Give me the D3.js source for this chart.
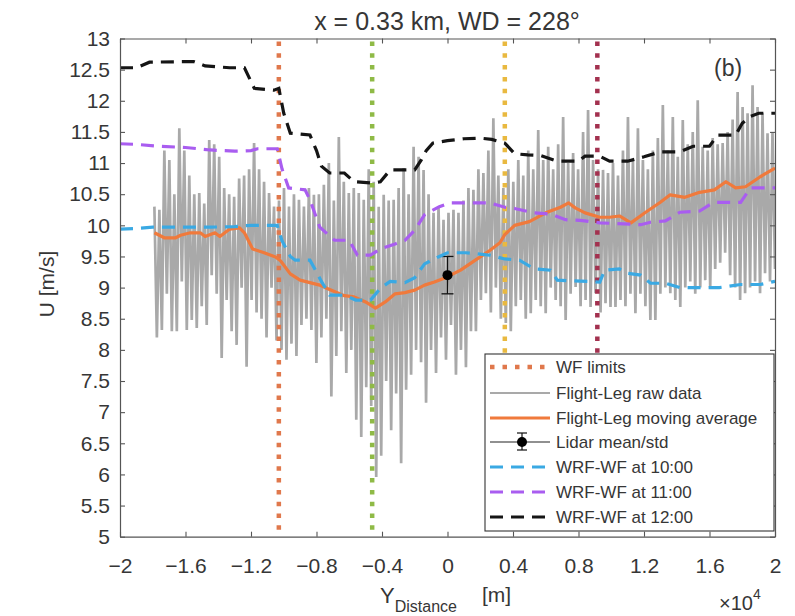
<!DOCTYPE html>
<html><head><meta charset="utf-8">
<script src="https://cdn.jsdelivr.net/npm/d3@7/dist/d3.min.js"></script>
<style>body{margin:0;background:#fff}svg{font-family:"Liberation Sans",Arial,Helvetica,sans-serif}</style>
</head><body><svg id="c" width="795" height="616"></svg>
<script>
// ---------- data ----------
const titleText = "x = 0.33 km, WD = 228°";
const panelLabel = "(b)";
const xTicks = [-2,-1.6,-1.2,-0.8,-0.4,0,0.4,0.8,1.2,1.6,2];
const yTicks = [5,5.5,6,6.5,7,7.5,8,8.5,9,9.5,10,10.5,11,11.5,12,12.5,13];
const wfLimits = [-1.03,-0.46,0.35,0.915];
const wfColors = ["#e0784c","#8fba46","#e9b940","#a3314f"];

// raw flight-leg data (x10^4 m), evenly sampled along the leg
const rawStart = -1.79, rawEnd = 2.0;
const rawValues = [
10.3,8.2, 10.25,8.32, 11.2,8.9, 11.05,8.3, 10.5,8.3, 11.56,9.1, 11.2,8.32, 10.8,8.48, 10.5,8.35, 10.52,8.7,
10.35,8.4, 11.37,9.2, 11.3,8.9, 11.1,7.87, 10.6,8.8, 10.5,8.3, 10.46,8.08, 10.75,9.0, 10.8,7.73, 10.9,8.8,
11.32,8.6, 10.9,8.5, 10.7,8.2, 10.52,9.0, 10.3,8.15, 10.4,8.0, 10.6,7.84, 10.3,8.1, 10.5,7.9, 10.41,8.4,
10.3,8.5, 10.6,8.32, 10.49,7.79, 10.5,8.2, 10.65,8.5, 11.0,7.25, 10.4,7.9, 11.42,8.3, 10.7,7.63, 10.52,8.0,
10.6,6.88, 10.52,6.6, 10.41,7.4, 10.9,7.1, 10.7,5.96, 10.3,6.3, 10.49,7.5, 10.4,6.71, 10.41,7.3, 10.6,6.18,
10.92,7.36, 10.5,7.6, 11.26,8.0, 11.1,7.8, 10.89,7.15, 10.5,8.0, 10.2,7.63, 10.3,8.2, 10.09,7.84, 10.2,8.4,
10.25,7.6, 10.2,8.0, 10.4,7.72, 10.6,8.3, 10.57,8.3, 10.9,8.8, 10.84,8.91, 11.2,8.6, 11.72,9.0, 10.8,8.5,
10.6,8.43, 10.9,8.3, 10.7,8.7, 11.05,8.8, 10.8,8.5, 11.2,8.59, 10.9,8.8, 11.53,8.7, 11.05,8.59, 11.26,9.0,
10.9,8.8, 11.3,8.7, 11.74,8.48, 11.0,8.9, 11.16,9.01, 10.9,8.7, 11.5,8.8, 11.85,8.69, 11.05,8.91, 10.9,8.6,
10.89,8.75, 10.84,8.69, 11.0,8.69, 10.8,8.8, 11.2,8.7, 11.74,8.9, 11.05,8.59, 11.56,8.9, 11.05,8.7, 10.9,8.48,
11.2,8.48, 11.4,8.9, 11.93,9.0, 11.2,8.91, 11.74,8.8, 11.1,8.69, 11.69,9.0, 11.3,9.1, 11.5,8.9, 12.01,9.0,
11.26,9.12, 11.2,9.0, 11.4,9.3, 11.3,9.4, 11.32,9.56, 11.5,9.2, 11.7,9.0, 12.14,8.8, 11.9,8.91, 11.8,9.0,
12.25,9.1, 11.9,8.91, 11.8,9.23, 11.48,9.1, 11.5,9.3
];

// flight-leg moving average
const maX = [-1.79,-1.73,-1.66,-1.63,-1.57,-1.51,-1.48,-1.42,-1.39,-1.33,-1.27,-1.24,-1.19,-1.12,-1.05,-1.02,-0.96,-0.90,-0.84,-0.78,-0.72,-0.63,-0.57,-0.50,-0.44,-0.38,-0.32,-0.26,-0.20,-0.14,-0.08,-0.02,0.08,0.17,0.26,0.32,0.35,0.41,0.50,0.60,0.69,0.74,0.78,0.84,0.93,0.99,1.05,1.12,1.21,1.30,1.36,1.45,1.54,1.63,1.70,1.76,1.82,1.91,2.0];
const maY = [9.88,9.80,9.80,9.84,9.88,9.88,9.82,9.88,9.82,9.94,9.96,9.88,9.62,9.56,9.49,9.43,9.22,9.12,9.08,9.04,8.97,8.87,8.85,8.77,8.67,8.77,8.90,8.92,8.96,9.04,9.09,9.15,9.28,9.44,9.60,9.72,9.85,10.0,10.06,10.20,10.29,10.36,10.28,10.20,10.13,10.13,10.15,10.04,10.21,10.37,10.49,10.45,10.53,10.57,10.70,10.60,10.62,10.78,10.92];

// lidar
const lidarX = 0, lidarMean = 9.2, lidarStd = 0.3;

// WRF-WF at 10:00
const wrf10X = [-2.0,-1.9,-1.8,-1.45,-1.3,-1.2,-1.04,-1.01,-0.96,-0.93,-0.84,-0.80,-0.77,-0.72,-0.63,-0.56,-0.47,-0.41,-0.35,-0.26,-0.20,-0.14,-0.05,0.0,0.11,0.26,0.35,0.44,0.53,0.63,0.67,0.93,0.96,1.05,1.10,1.18,1.24,1.33,1.42,1.66,1.79,1.91,2.0];
const wrf10Y = [9.94,9.95,9.97,9.97,9.98,10.0,10.0,9.75,9.5,9.44,9.44,9.25,9.1,8.88,8.88,8.80,8.80,8.99,9.1,9.08,9.16,9.38,9.5,9.56,9.56,9.52,9.46,9.44,9.30,9.28,9.12,9.09,9.28,9.3,9.23,9.2,9.07,9.07,9.0,9.0,9.05,9.05,9.1];
// WRF-WF at 11:00
const wrf11X = [-2.0,-1.9,-1.76,-1.6,-1.45,-1.3,-1.2,-1.16,-1.04,-1.01,-0.97,-0.87,-0.84,-0.78,-0.69,-0.60,-0.55,-0.47,-0.41,-0.32,-0.26,-0.20,-0.14,-0.05,0.015,0.26,0.35,0.41,0.53,0.63,0.72,0.81,0.93,1.02,1.18,1.24,1.33,1.42,1.54,1.60,1.63,1.79,1.85,2.0];
const wrf11Y = [11.31,11.3,11.27,11.25,11.21,11.19,11.2,11.23,11.23,10.9,10.6,10.57,10.41,9.97,9.76,9.76,9.52,9.52,9.62,9.70,9.76,9.92,10.17,10.3,10.36,10.36,10.29,10.27,10.2,10.18,10.09,10.08,10.04,10.03,10.01,10.05,10.07,10.21,10.23,10.33,10.37,10.37,10.6,10.6];
// WRF-WF at 12:00
const wrf12X = [-2.0,-1.9,-1.82,-1.55,-1.48,-1.33,-1.24,-1.18,-1.06,-1.03,-1.0,-0.96,-0.84,-0.80,-0.77,-0.72,-0.63,-0.57,-0.47,-0.41,-0.35,-0.20,-0.16,-0.13,-0.09,0.0,0.10,0.20,0.27,0.35,0.41,0.49,0.57,0.67,0.80,0.84,0.93,0.99,1.10,1.20,1.30,1.42,1.50,1.60,1.65,1.76,1.80,1.85,1.90,2.0];
const wrf12Y = [12.53,12.53,12.62,12.63,12.56,12.53,12.53,12.2,12.17,12.2,11.8,11.48,11.45,11.2,10.95,10.84,10.84,10.7,10.68,10.7,10.89,10.89,11.05,11.2,11.32,11.36,11.39,11.40,11.38,11.32,11.15,11.13,11.12,11.03,11.03,11.11,11.11,11.03,11.03,11.1,11.18,11.18,11.27,11.27,11.45,11.45,11.64,11.75,11.8,11.8];

const legendLabels = ["WF limits","Flight-Leg raw data","Flight-Leg moving average","Lidar mean/std","WRF-WF at 10:00","WRF-WF at 11:00","WRF-WF at 12:00"];

// ---------- drawing ----------
const L = 120, R = 775, T = 38.5, B = 536.7;
const svg = d3.select("#c");
const x = d3.scaleLinear().domain([-2,2]).range([L,R]);
const y = d3.scaleLinear().domain([5,13]).range([B,T]);
const axisCol = "#555", textCol = "#363636";
const cRaw = "#a9a9a9", cMA = "#f07a3c", c10 = "#3aa9e3", c11 = "#a95df0", c12 = "#151515";

svg.append("defs").append("clipPath").attr("id","clip")
  .append("rect").attr("x",L).attr("y",T).attr("width",R-L).attr("height",B-T);
const plot = svg.append("g").attr("clip-path","url(#clip)");
const line = d3.line().x(d=>x(d[0])).y(d=>y(d[1]));

// raw
const n = rawValues.length;
const rawPts = rawValues.map((v,i)=>[rawStart + i*(rawEnd-rawStart)/(n-1), v]);
plot.append("path").attr("d", line(rawPts)).attr("fill","none")
  .attr("stroke",cRaw).attr("stroke-width",2.7).attr("stroke-linejoin","bevel");

// WF limits
wfLimits.forEach((v,i)=>{
  plot.append("line").attr("x1",x(v)).attr("x2",x(v)).attr("y1",T+3).attr("y2",B)
    .attr("stroke",wfColors[i]).attr("stroke-width",4.5).attr("stroke-dasharray","4.5,7.3");
});

// moving average
plot.append("path").attr("d", line(maX.map((v,i)=>[v,maY[i]]))).attr("fill","none")
  .attr("stroke",cMA).attr("stroke-width",3.2).attr("stroke-linejoin","round");
// lidar
plot.append("line").attr("x1",x(lidarX)).attr("x2",x(lidarX))
  .attr("y1",y(lidarMean-lidarStd)).attr("y2",y(lidarMean+lidarStd)).attr("stroke","#111").attr("stroke-width",1.3);
[lidarMean-lidarStd, lidarMean+lidarStd].forEach(v=>{
  plot.append("line").attr("x1",x(lidarX)-6).attr("x2",x(lidarX)+6).attr("y1",y(v)).attr("y2",y(v))
    .attr("stroke","#111").attr("stroke-width",1.3);
});
plot.append("circle").attr("cx",x(lidarX)).attr("cy",y(lidarMean)).attr("r",5).attr("fill","#000");

// WRF
const wrf = [[wrf10X,wrf10Y,c10],[wrf11X,wrf11Y,c11],[wrf12X,wrf12Y,c12]];
wrf.forEach(([xs,ys,c])=>{
  plot.append("path").attr("d", line(xs.map((v,i)=>[v,ys[i]]))).attr("fill","none")
    .attr("stroke",c).attr("stroke-width",3.2).attr("stroke-dasharray","13,8");
});

// axes
const fmt = d => d3.format("")(d);
const ax = (g, a) => { g.call(a); g.select(".domain").attr("stroke",axisCol).attr("stroke-width",1.2);
  g.selectAll(".tick line").attr("stroke",axisCol).attr("stroke-width",1.1);
  g.selectAll("text").attr("fill",textCol).attr("font-size",21).attr("font-family","Liberation Sans, Arial, sans-serif"); };
svg.append("g").attr("transform",`translate(0,${B})`)
  .call(g=>ax(g, d3.axisBottom(x).tickValues(xTicks).tickFormat(fmt).tickSizeInner(-5).tickSizeOuter(0).tickPadding(21)));
svg.append("g").attr("transform",`translate(0,${T})`)
  .call(g=>ax(g, d3.axisTop(x).tickValues(xTicks).tickFormat("").tickSizeInner(-5).tickSizeOuter(0)));
svg.append("g").attr("transform",`translate(${L},0)`)
  .call(g=>ax(g, d3.axisLeft(y).tickValues(yTicks).tickFormat(fmt).tickSizeInner(-5).tickSizeOuter(0).tickPadding(10)));
svg.append("g").attr("transform",`translate(${R},0)`)
  .call(g=>ax(g, d3.axisRight(y).tickValues(yTicks).tickFormat("").tickSizeInner(-5).tickSizeOuter(0)));

// title
svg.append("text").attr("x",447).attr("y",30).attr("text-anchor","middle").attr("font-size",25)
  .attr("fill",textCol).text(titleText);
svg.append("text").attr("x",714).attr("y",76).attr("font-size",23).attr("fill",textCol).text(panelLabel);

// y label
svg.append("text").attr("transform","translate(54,284) rotate(-90)").attr("text-anchor","middle")
  .attr("font-size",21).attr("fill",textCol).text("U [m/s]");
// x label
const xl = svg.append("text").attr("x",380).attr("y",603).attr("font-size",22).attr("fill",textCol);
xl.append("tspan").text("Y");
xl.append("tspan").attr("dy",9).attr("font-size",16).text("Distance");
svg.append("text").attr("x",482).attr("y",602).attr("font-size",21).attr("fill",textCol).text("[m]");
const ex = svg.append("text").attr("x",719).attr("y",610).attr("font-size",20).attr("fill",textCol);
ex.append("tspan").text("×10");
ex.append("tspan").attr("dy",-11).attr("font-size",14).text("4");

// legend
const lg = svg.append("g");
lg.append("rect").attr("x",485).attr("y",354).attr("width",289).attr("height",177)
  .attr("fill","#fff").attr("stroke","#333").attr("stroke-width",1.1);
const rows = [367,393,418,442,467,492,517];
const lx0 = 490, lx1 = 550;
legendLabels.forEach((t,i)=>{
  lg.append("text").attr("x",556).attr("y",rows[i]+6).attr("font-size",17).attr("fill",textCol).text(t);
});
lg.append("line").attr("x1",lx0).attr("x2",lx1-4).attr("y1",rows[0]).attr("y2",rows[0])
  .attr("stroke",wfColors[0]).attr("stroke-width",4.5).attr("stroke-dasharray","4.5,8");
lg.append("line").attr("x1",lx0).attr("x2",lx1).attr("y1",rows[1]).attr("y2",rows[1]).attr("stroke",cRaw).attr("stroke-width",2);
lg.append("line").attr("x1",lx0).attr("x2",lx1).attr("y1",rows[2]).attr("y2",rows[2]).attr("stroke",cMA).attr("stroke-width",3.2);
lg.append("line").attr("x1",lx0).attr("x2",lx1).attr("y1",rows[3]).attr("y2",rows[3]).attr("stroke","#222").attr("stroke-width",1.1);
lg.append("line").attr("x1",522).attr("x2",522).attr("y1",rows[3]-9).attr("y2",rows[3]+8).attr("stroke","#111").attr("stroke-width",1.2);
[rows[3]-9,rows[3]+8].forEach(v=>lg.append("line").attr("x1",517).attr("x2",527).attr("y1",v).attr("y2",v).attr("stroke","#111").attr("stroke-width",1.2));
lg.append("circle").attr("cx",522).attr("cy",rows[3]).attr("r",5).attr("fill","#000");
[c10,c11,c12].forEach((c,i)=>{
  lg.append("line").attr("x1",lx0).attr("x2",lx1+2).attr("y1",rows[4+i]).attr("y2",rows[4+i])
    .attr("stroke",c).attr("stroke-width",3.2).attr("stroke-dasharray","13,8");
});
</script></body></html>
